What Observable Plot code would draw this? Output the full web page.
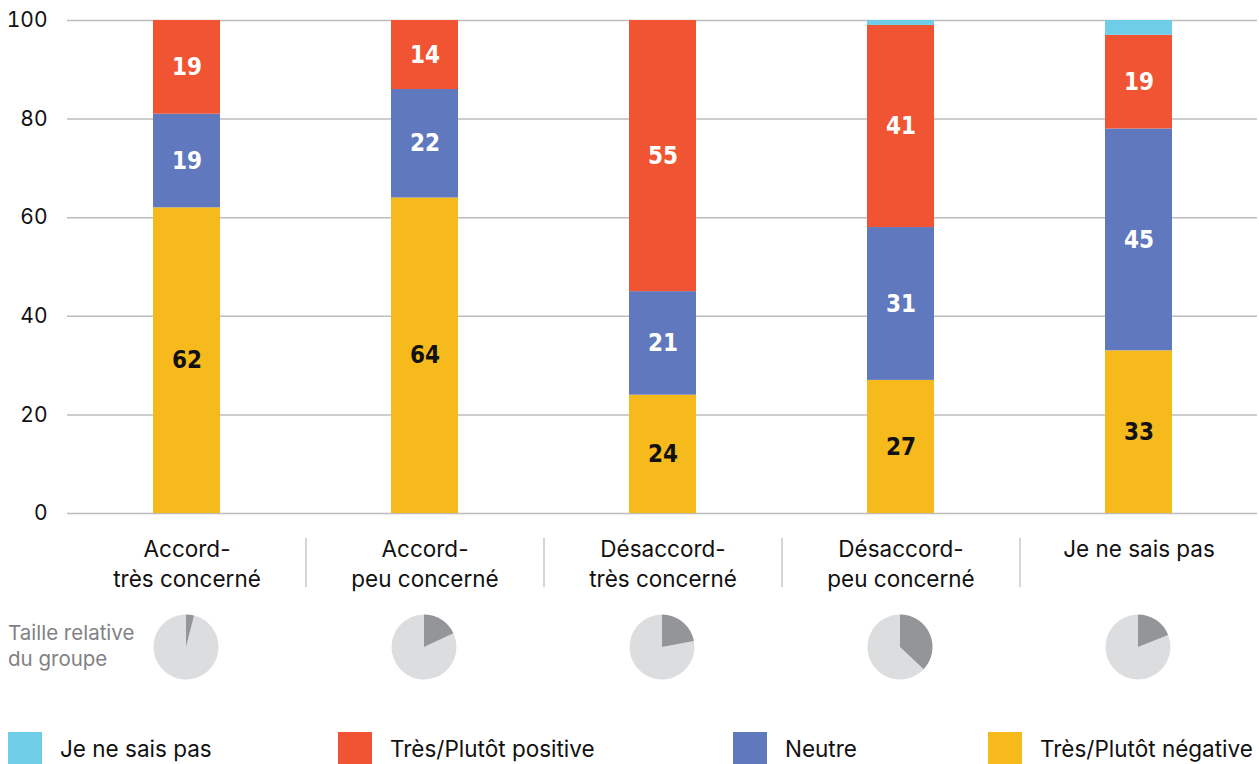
<!DOCTYPE html>
<html>
<head>
<meta charset="utf-8">
<script src="https://cdn.jsdelivr.net/npm/d3@7"></script>
<script src="https://cdn.jsdelivr.net/npm/@observablehq/plot@0.6"></script>
<style>
  html, body { margin: 0; padding: 0; background: #fff; }
  #wrap { position: relative; width: 1259px; height: 764px; overflow: hidden; font-family: Inter, "Noto Sans", sans-serif; color: #111; }
  #main, #pies { position: absolute; left: 0; }
  #main { top: 0; }
  #pies { top: 600px; }
  #pieLabel { position: absolute; left: 8px; top: 620px; font-size: 20.5px; line-height: 26px; color: #808285; }
  .lg { position: absolute; top: 732px; display: flex; align-items: center; font-size: 22.5px; color: #111; }
  .lg .sw { width: 34px; height: 32px; margin-right: 18px; }
  #main g[font-weight="bold"] { font-stretch: condensed; }
</style>
</head>
<body>
<div id="wrap">
  <div id="main"></div>
  <div id="pies"></div>
  <div id="pieLabel">Taille relative<br>du groupe</div>
  <div id="legend"></div>
</div>
<script>
// ---- Data ----
const categories = ["Accord-\ntrès concerné", "Accord-\npeu concerné", "Désaccord-\ntrès concerné", "Désaccord-\npeu concerné", "Je ne sais pas"];
const series = ["Très/Plutôt négative", "Neutre", "Très/Plutôt positive", "Je ne sais pas"];
const negativeValues = [62, 64, 24, 27, 33];
const neutreValues = [19, 22, 21, 31, 45];
const positiveValues = [19, 14, 55, 41, 19];
const jnspValues = [0, 0, 0, 1, 3];
const groupShare = [4, 18, 22, 37, 19];
const yTicks = [0, 20, 40, 60, 80, 100];
const seriesColors = ["#F6BA1C", "#6078BE", "#F05432", "#6FCDE8"];
const legendOrder = ["Je ne sais pas", "Très/Plutôt positive", "Neutre", "Très/Plutôt négative"];

// ---- Table ----
const valuesBySeries = [negativeValues, neutreValues, positiveValues, jnspValues];
const rows = [];
categories.forEach((c, i) => {
  series.forEach((s, j) => rows.push({category: c, series: s, value: valuesBySeries[j][i]}));
});
const pieRows = categories.map((c, i) => ({category: c, share: groupShare[i]}));

const W = 1259;
const xOpts = {domain: categories, paddingInner: 0.72, paddingOuter: 0.36, axis: null};
const labelFont = '"DejaVu Sans Condensed", "DejaVu Sans", sans-serif';

const main = Plot.plot({
  width: W, height: 600,
  marginTop: 20, marginBottom: 87, marginLeft: 67, marginRight: 2,
  style: {fontFamily: 'Inter, "Noto Sans", sans-serif', fontSize: "21px", color: "#111", background: "#fff"},
  x: xOpts,
  y: {domain: [0, 100], ticks: yTicks, tickSize: 0, tickPadding: 20, label: null, tickFormat: d => String(d)},
  color: {domain: series, range: seriesColors},
  marks: [
    Plot.ruleY(yTicks, {stroke: "#bdbdbd", strokeWidth: 1.5}),
    Plot.barY(rows, {x: "category", y: "value", fill: "series", order: series}),
    Plot.text(rows, Plot.stackY({
      x: "category", y: "value", z: "series", order: series,
      text: d => d.value >= 5 ? String(d.value) : "",
      fill: d => d.series === series[0] ? "#111" : "#fff",
      fontSize: 24, fontWeight: "bold", fontFamily: labelFont
    })),
    Plot.text(categories, {x: d => d, frameAnchor: "bottom", lineAnchor: "top", dy: 23, lineHeight: 1.3, fontSize: 22.5, fill: "#111"}),
    Plot.ruleX(categories.slice(0, categories.length - 1), {x: d => d, dx: 119, y1: -5, y2: -15, stroke: "#c8c8c8", strokeWidth: 1.5})
  ]
});
document.getElementById("main").appendChild(main);

// ---- Pies (custom render mark positioned by Plot's x band scale) ----
function pieMark(index, scales, values, dimensions) {
  const x = scales.x;
  const bw = typeof x.bandwidth === "function" ? x.bandwidth() : 0;
  const r = 32.5;
  const cy = 47;
  const g = d3.create("svg:g");
  const arc = d3.arc().innerRadius(0).outerRadius(r);
  for (const d of pieRows) {
    const cx = x(d.category) + bw / 2;
    const a = d.share / 100 * 2 * Math.PI;
    const gg = g.append("g").attr("transform", `translate(${cx},${cy})`);
    gg.append("path").attr("d", arc({startAngle: a, endAngle: 2 * Math.PI})).attr("fill", "#DCDDDF");
    gg.append("path").attr("d", arc({startAngle: 0, endAngle: a})).attr("fill", "#939598");
  }
  return g.node();
}
const pies = Plot.plot({
  width: W, height: 110,
  marginTop: 0, marginBottom: 0, marginLeft: 67, marginRight: 2,
  x: xOpts,
  marks: [pieMark]
});
document.getElementById("pies").appendChild(pies);

// ---- Legend ----
const legendLeft = [8, 338, 733, 988];
const legend = document.getElementById("legend");
legendOrder.forEach((name, i) => {
  const item = document.createElement("div");
  item.className = "lg";
  item.style.left = legendLeft[i] + "px";
  const sw = document.createElement("div");
  sw.className = "sw";
  sw.style.background = seriesColors[series.indexOf(name)];
  const t = document.createElement("span");
  t.textContent = name;
  item.appendChild(sw); item.appendChild(t);
  legend.appendChild(item);
});
</script>
</body>
</html>
